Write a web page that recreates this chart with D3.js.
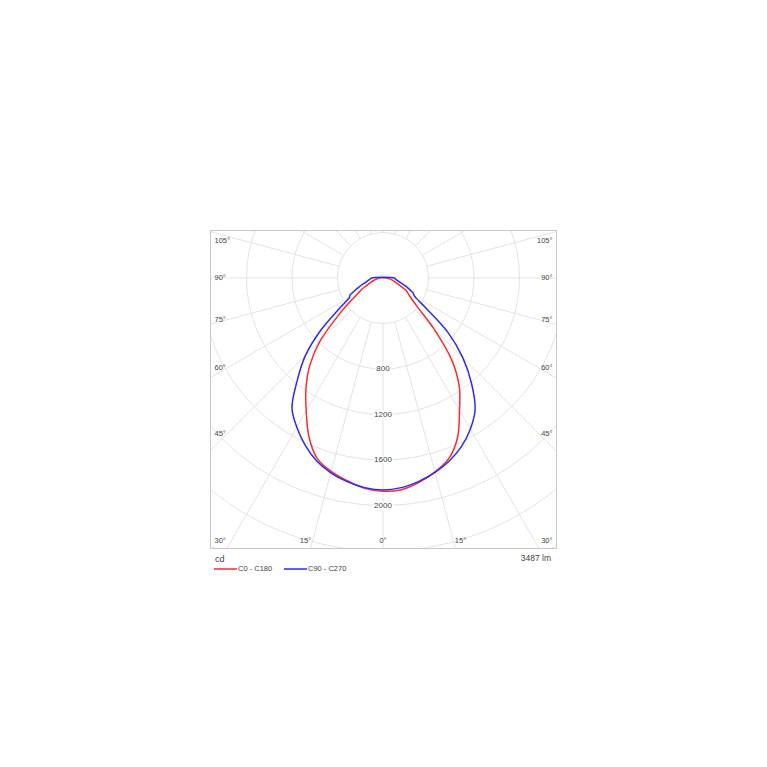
<!DOCTYPE html>
<html>
<head>
<meta charset="utf-8">
<script src="https://cdn.jsdelivr.net/npm/d3@7"></script>
<style>
  html, body { margin: 0; padding: 0; background: #fff; }
  svg { display: block; }
  text { font-family: "Liberation Sans", Arial, sans-serif; fill: #444; }
</style>
</head>
<body>
<svg id="chart" width="767" height="767"></svg>
<script>
// ---------- data ----------
const gammaAngles = [0, 5, 10, 15, 20, 25, 30, 35, 40, 45, 50, 55, 60, 62, 64, 65, 70, 75, 80, 85, 90];

// C0 - C180 plane (red): left half / right half, in cd
const redLeft  = [1875, 1855, 1810, 1760, 1690, 1540, 1350, 1180, 1000, 780, 515, 335, 235, 210, 180, 160, 115, 85, 65, 45, 30];
const redRight = [1870, 1868, 1825, 1765, 1690, 1550, 1345, 1170, 940, 635, 395, 295, 245, 225, 190, 175, 125, 95, 70, 50, 30];

// C90 - C270 plane (blue): left half / right half, in cd
const blueLeft  = [1864, 1850, 1818, 1773, 1710, 1620, 1515, 1395, 1172, 965, 712, 470, 340, 330, 305, 290, 220, 165, 135, 115, 100];
const blueRight = [1864, 1850, 1815, 1770, 1710, 1634, 1535, 1412, 1211, 993, 747, 462, 320, 305, 294, 275, 216, 160, 130, 110, 100];

const ringValues = [400, 800, 1200, 1600, 2000, 2400, 2800, 3200];
const ringLabels = [800, 1200, 1600, 2000];
const spokeAngles = [0, 15, 30, 45, 60, 75, 90, 105, 120, 135, 150, 165, 180];
const sideLabels = [105, 90, 75, 60, 45];
const bottomLabels = [30, 15, 0, 15, 30];
const seriesNames = ["C0 - C180", "C90 - C270"];
const seriesColors = ["#ff2a2a", "#2a2aff"];
const unitLabel = "cd";
const fluxLabel = "3487 lm";

// ---------- layout ----------
const svg = d3.select("#chart");
const frame = { x0: 210.5, y0: 230.5, x1: 556.5, y1: 548.5 };
const cx = 383, cy = 278;
const r = d3.scaleLinear().domain([0, 2000]).range([0, 227.5]);
const rad = d => d * Math.PI / 180;

svg.append("defs").append("clipPath").attr("id", "frameClip")
  .append("rect").attr("x", frame.x0).attr("y", frame.y0)
  .attr("width", frame.x1 - frame.x0).attr("height", frame.y1 - frame.y0);

const g = svg.append("g").attr("clip-path", "url(#frameClip)");
const gridColor = "#e3e3e3";

// rings
g.selectAll("circle.ring").data(ringValues).join("circle")
  .attr("class", "ring")
  .attr("cx", cx).attr("cy", cy).attr("r", d => r(d))
  .attr("fill", "none").attr("stroke", gridColor).attr("stroke-width", 1);

// spokes (from the first ring outward), angle measured from nadir (down)
const rMin = r(ringValues[0]), rMax = r(4000);
spokeAngles.forEach(a => {
  [1, -1].forEach(s => {
    if ((a === 0 || a === 180) && s === -1) return;
    const sx = s * Math.sin(rad(a)), sy = Math.cos(rad(a));
    g.append("line")
      .attr("x1", cx + sx * rMin).attr("y1", cy + sy * rMin)
      .attr("x2", cx + sx * rMax).attr("y2", cy + sy * rMax)
      .attr("stroke", gridColor).attr("stroke-width", 1);
  });
});

// ring labels
svg.selectAll("text.ringLabel").data(ringLabels).join("text")
  .attr("class", "ringLabel")
  .attr("x", cx).attr("y", d => cy + r(d))
  .attr("text-anchor", "middle").attr("dominant-baseline", "middle")
  .attr("font-size", 8)
  .attr("stroke", "#fff").attr("stroke-width", 3).attr("paint-order", "stroke")
  .text(d => d);

// curves (closed across the top, through the 90° points)
const line = d3.lineRadial()
  .angle(d => d[0])
  .radius(d => r(d[1]))
  .curve(d3.curveCatmullRomClosed.alpha(0.5));

function buildPoints(left, right) {
  const pts = [];
  for (let i = gammaAngles.length - 1; i >= 0; i--) pts.push([Math.PI + rad(gammaAngles[i]), left[i]]);
  for (let i = 1; i < gammaAngles.length; i++) pts.push([Math.PI - rad(gammaAngles[i]), right[i]]);
  return pts;
}
const curves = [buildPoints(redLeft, redRight), buildPoints(blueLeft, blueRight)];
const cg = g.append("g").attr("transform", `translate(${cx},${cy})`);
curves.forEach((pts, i) => {
  cg.append("path").attr("d", line(pts))
    .attr("fill", "none").attr("stroke", seriesColors[i])
    .attr("stroke-width", 1.5).attr("stroke-linejoin", "round");
});

// frame
svg.append("rect").attr("x", frame.x0).attr("y", frame.y0)
  .attr("width", frame.x1 - frame.x0).attr("height", frame.y1 - frame.y0)
  .attr("fill", "none").attr("stroke", "#c8c8c8").attr("stroke-width", 1);

// side angle labels
const labelInsetX = 220;
sideLabels.forEach(a => {
  const dx = cx - labelInsetX;
  let y = cy + (dx * Math.cos(rad(a)) / Math.sin(rad(a))) * 0.96;
  y = Math.max(frame.y0 + 11, y);
  [[frame.x0 + 4, "start"], [frame.x1 - 4, "end"]].forEach(([x, anchor]) => {
    svg.append("text").attr("x", x).attr("y", y)
      .attr("text-anchor", anchor).attr("dominant-baseline", "middle")
      .attr("font-size", 7.5).text(a + "°");
  });
});

// bottom angle labels
const bottomY = 541;
bottomLabels.forEach((a, i) => {
  const s = i < 2 ? -1 : 1;
  let x = cx + s * (bottomY - cy) * Math.tan(rad(a)) * 1.1;
  let anchor = "middle";
  if (x < frame.x0 + 20) { x = frame.x0 + 4; anchor = "start"; }
  if (x > frame.x1 - 20) { x = frame.x1 - 4; anchor = "end"; }
  svg.append("text").attr("x", x).attr("y", bottomY)
    .attr("text-anchor", anchor).attr("dominant-baseline", "middle")
    .attr("font-size", 7.5).text(a + "°");
});

// footer
svg.append("text").attr("x", 215).attr("y", 560).attr("dominant-baseline", "middle")
  .attr("font-size", 9).text(unitLabel);
svg.append("text").attr("x", 551).attr("y", 559).attr("text-anchor", "end")
  .attr("dominant-baseline", "middle").attr("font-size", 8.5).text(fluxLabel);

// legend
const legendX = [214, 284];
seriesNames.forEach((name, i) => {
  svg.append("line").attr("x1", legendX[i]).attr("x2", legendX[i] + 23)
    .attr("y1", 569).attr("y2", 569)
    .attr("stroke", seriesColors[i]).attr("stroke-width", 1.5);
  svg.append("text").attr("x", legendX[i] + 24).attr("y", 569.5)
    .attr("dominant-baseline", "middle").attr("font-size", 7.5).text(name);
});
</script>
</body>
</html>
